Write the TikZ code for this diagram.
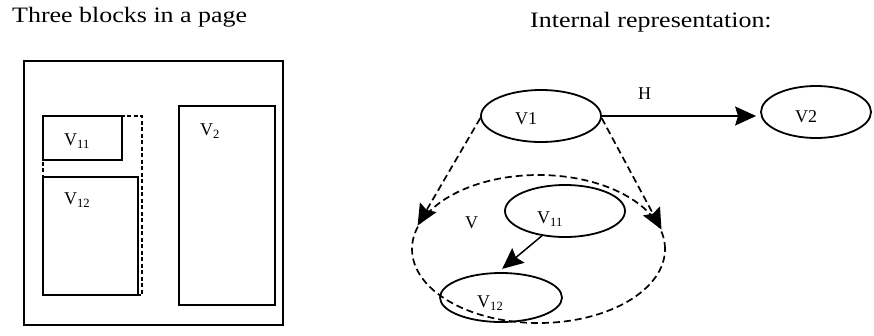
\documentclass[tikz,border=0pt]{standalone}
\usepackage{fontspec}
\usepackage{graphicx}
\setmainfont{Liberation Serif}
\usetikzlibrary{shapes.geometric,arrows.meta}
\newcommand{\subs}[1]{\raisebox{-0.22em}{\scalebox{0.7}{#1}}}
\begin{document}
\begin{tikzpicture}[x=1pt,y=-1pt,
  box/.style={draw, line width=2.3pt},
  dashbox/.style={draw, line width=2pt, dash pattern=on 4pt off 2.5pt},
  ell/.style={draw, ellipse, line width=1.8pt, inner sep=0pt},
  title/.style={anchor=base west, inner sep=0pt, font=\fontsize{22}{26}\selectfont\addfontfeature{FakeStretch=1.18}},
  lbl/.style={anchor=base west, inner sep=0pt, font=\fontsize{18}{20}\selectfont},
  slbl/.style={anchor=base west, inner sep=0pt, font=\fontsize{18}{20}\selectfont},
  arr/.style={line width=1.5pt, -{Stealth[length=21pt,width=19pt,inset=3pt]}},
  darr/.style={arr, line width=1.7pt, dash pattern=on 7pt off 4pt}]
\useasboundingbox (0,0) rectangle (874,335);

% titles
\node[title] (t1) at (12,22) {Three blocks in a page};
\node[title] (t2) at (530,27) {Internal representation:};

% left: page layout
\draw[box] (24,61) rectangle (283,325);
\draw[box] (43,116) rectangle (122,160);
\draw[box] (43,177) rectangle (138,295);
\draw[dashbox] (43,116) rectangle (142,295);
\draw[box] (179,106) rectangle (275,305);
\node[slbl] (l11) at (64,145) {V\subs{11}};
\node[slbl] (l12) at (64,204) {V\subs{12}};
\node[slbl] (l2) at (200,135) {V\subs{2}};

% right: internal representation
\node[ell, minimum width=120pt, minimum height=52pt] (v1) at (541,116) {};
\node[ell, minimum width=110pt, minimum height=52pt] (v2) at (816,112) {};
\node[ell, line width=1.7pt, dash pattern=on 7pt off 4pt, minimum width=253pt, minimum height=148pt] (vv) at (538.5,249) {};
\node[ell, minimum width=120pt, minimum height=52pt] (v11) at (565,211) {};
\node[ell, minimum width=122pt, minimum height=49pt] (v12) at (501,297.5) {};

\node[lbl] (v1t) at (515,124) {V1};
\node[lbl] (v2t) at (795,122) {V2};
\node[lbl] (ht) at (638,99) {H};
\node[lbl] (vt) at (465,228) {V};
\node[lbl] (v11t) at (537,223) {V\subs{11}};
\node[lbl] (v12t) at (477,307) {V\subs{12}};

\draw[arr, shorten >=4pt] (v1.east) -- (v1.east -| v2.west);
\draw[darr] (v1.182) -- (vv.169);
\draw[darr] (v1.358) -- (vv.9);
\draw[arr, shorten >=5pt] (v11.227) -- (v12.96);
\end{tikzpicture}
\end{document}
